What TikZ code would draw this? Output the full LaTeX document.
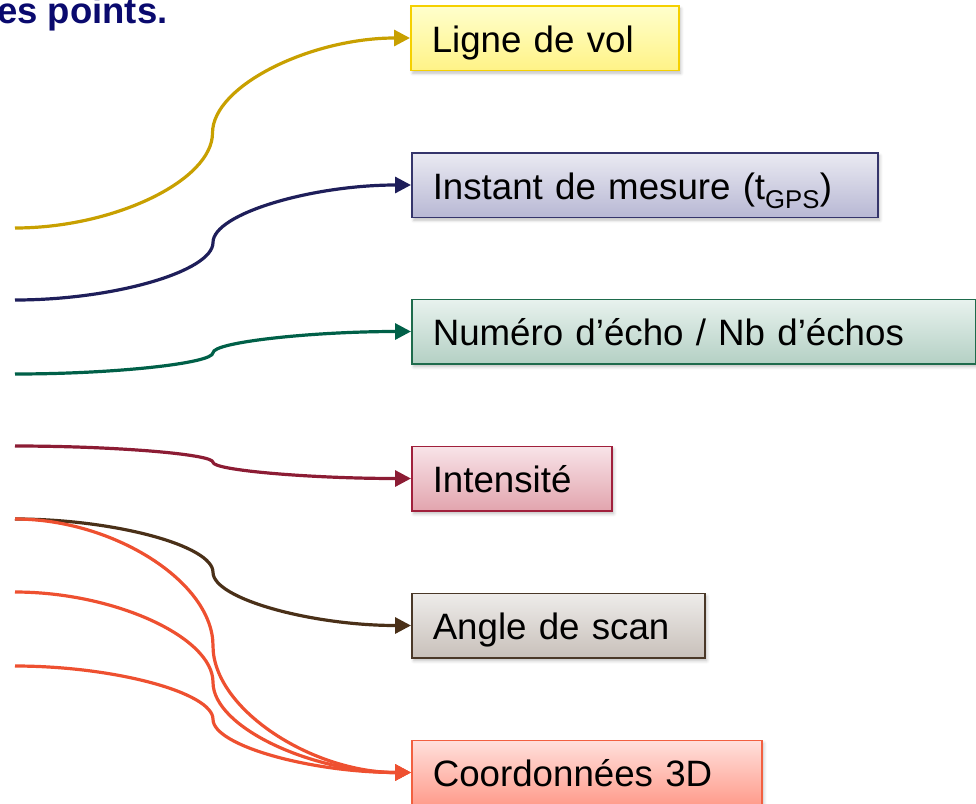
\documentclass[tikz,border=0pt]{standalone}
\usepackage{fontspec}
\setmainfont{Liberation Sans}
\usetikzlibrary{arrows.meta,calc,shadows.blur}
\definecolor{titleblue}{HTML}{0A0A6E}
\definecolor{cYel}{HTML}{C8A000}
\definecolor{cNavy}{HTML}{1E1E5A}
\definecolor{cGreen}{HTML}{006048}
\definecolor{cRed}{HTML}{8C1C34}
\definecolor{cBrown}{HTML}{4A3018}
\definecolor{cOrange}{HTML}{EE5030}
\tikzset{
  box/.style={draw, line width=1.5pt, anchor=west, minimum height=64.5pt,
    inner xsep=21pt, inner ysep=0pt, align=left, text height=34pt, text depth=6pt,
    font=\fontsize{36.7}{44}\selectfont,
    blur shadow={shadow xshift=2pt, shadow yshift=-3pt, shadow opacity=25, shadow blur radius=3pt}},
  conn/.style={line width=3.2pt, -{Triangle[length=16pt,width=16pt]}},
}
\newcommand{\sconn}[3]{%
  \draw[conn, #1] let \p1=(#2), \p2=(#3) in
    (\p1) .. controls ({\x1+(\x2-\x1)/4},\y1) and ({(\x1+\x2)/2},{\y1+(\y2-\y1)/4}) ..
    ({(\x1+\x2)/2},{(\y1+\y2)/2}) .. controls ({(\x1+\x2)/2},{\y1+3*(\y2-\y1)/4}) and ({\x1+3*(\x2-\x1)/4},\y2) .. (\p2);}
\begin{document}
\begin{tikzpicture}[x=1pt,y=-1pt]
\useasboundingbox (0,0) rectangle (976,803);
\node[anchor=base west, inner sep=0pt, text=titleblue, font=\fontsize{36.5}{42}\selectfont\bfseries] (title) at (-3,23) {es points.};
% boxes
\node[box, minimum width=268pt, text width=226pt, draw={rgb,255:red,245;green,208;blue,0}, top color={rgb,255:red,255;green,255;blue,205}, bottom color={rgb,255:red,255;green,243;blue,135}] (vol) at (410,38) {Ligne de vol};
\node[box, minimum width=466pt, text width=424pt, draw=cNavy!90, top color={rgb,255:red,234;green,234;blue,242}, bottom color={rgb,255:red,184;green,184;blue,212}] (gps) at (411,185) {Instant de mesure (t\textsubscript{GPS})};
\node[box, minimum width=564pt, text width=522pt, draw={rgb,255:red,30;green,107;blue,76}, top color={rgb,255:red,232;green,242;blue,238}, bottom color={rgb,255:red,180;green,208;blue,196}] (echo) at (411,331.5) {Numéro d’écho / Nb d’échos};
\node[box, minimum width=200pt, text width=158pt, draw={rgb,255:red,160;green,32;blue,60}, top color={rgb,255:red,248;green,228;blue,232}, bottom color={rgb,255:red,226;green,164;blue,174}] (int) at (411,478.5) {Intensité};
\node[box, minimum width=293pt, text width=251pt, draw={rgb,255:red,74;green,56;blue,40}, top color={rgb,255:red,238;green,236;blue,234}, bottom color={rgb,255:red,200;green,192;blue,186}] (ang) at (411,625.5) {Angle de scan};
\node[box, minimum width=350pt, text width=308pt, draw={rgb,255:red,242;green,96;blue,64}, top color={rgb,255:red,255;green,224;blue,220}, bottom color={rgb,255:red,255;green,156;blue,140}] (xyz) at (411,772.5) {Coordonnées 3D};
% start points
\coordinate (s1) at (15,228);
\coordinate (s2) at (15,300);
\coordinate (s3) at (15,374);
\coordinate (s4) at (15,446);
\coordinate (s5) at (15,519);
\coordinate (s6) at (15,592);
\coordinate (s7) at (15,666);
% connectors
\sconn{cYel}{s1}{vol.west}
\sconn{cNavy}{s2}{gps.west}
\sconn{cGreen}{s3}{echo.west}
\sconn{cRed}{s4}{int.west}
\sconn{cBrown}{s5}{ang.west}
\sconn{cOrange}{s5}{xyz.west}
\sconn{cOrange}{s6}{xyz.west}
\sconn{cOrange}{s7}{xyz.west}
\end{tikzpicture}
\end{document}
